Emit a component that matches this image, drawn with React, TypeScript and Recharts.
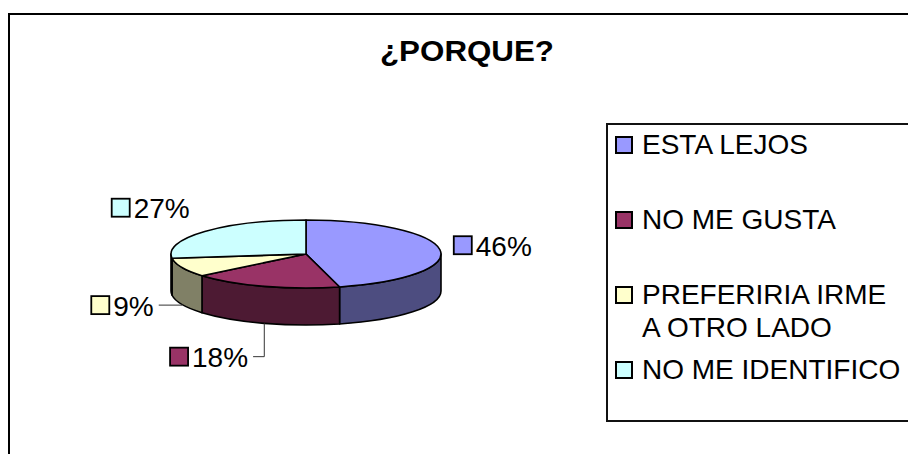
import React from 'react';
import { PieChart, Pie, Legend } from 'recharts';

// slice names and percentages
const categories = ['ESTA LEJOS', 'NO ME GUSTA', 'PREFERIRIA IRME A OTRO LADO', 'NO ME IDENTIFICO'];
const values = [46, 18, 9, 27];
const topColors = ['#9999FF', '#993366', '#FFFFCC', '#CCFFFF'];
const sideColors = ['#4D4D80', '#4D1A33', '#808066', '#668080'];

const data = categories.map((name, i) => ({ name, value: values[i], fill: topColors[i] }));

const RAD = Math.PI / 180;
const TILT = 0.252; // ellipse ry / rx
const DEPTH = 37;
const FONT = '"Liberation Sans", Arial, sans-serif';

const pt = (cx: number, cy: number, rx: number, ry: number, a: number, dy = 0) =>
    `${cx + rx * Math.cos(a * RAD)},${cy - ry * Math.sin(a * RAD) + dy}`;

function Slice3D(props: any) {
    const { cx, cy, outerRadius, startAngle, endAngle, index } = props;
    const rx = outerRadius;
    const ry = outerRadius * TILT;
    const hi = Math.max(startAngle, endAngle);
    const lo = Math.min(startAngle, endAngle);
    const large = hi - lo > 180 ? 1 : 0;
    const top = `M${cx},${cy} L${pt(cx, cy, rx, ry, hi)} A${rx},${ry} 0 ${large} 1 ${pt(cx, cy, rx, ry, lo)} Z`;

    // side wall only where the slice is on the front half of the disc
    const walls: string[] = [];
    for (let k = -1; k <= 1; k++) {
        const a1 = Math.min(hi, -360 * k);
        const a0 = Math.max(lo, -180 - 360 * k);
        if (a1 > a0) {
            walls.push(
                `M${pt(cx, cy, rx, ry, a1)} A${rx},${ry} 0 0 1 ${pt(cx, cy, rx, ry, a0)} ` +
                    `L${pt(cx, cy, rx, ry, a0, DEPTH)} A${rx},${ry} 0 0 0 ${pt(cx, cy, rx, ry, a1, DEPTH)} Z`
            );
        }
    }
    return (
        <g>
            {walls.map((d, i) => (
                <path key={i} d={d} fill={sideColors[index]} stroke="#000" strokeWidth={1.6} strokeLinejoin="round" />
            ))}
            <path d={top} fill={topColors[index]} stroke="#000" strokeWidth={1.6} strokeLinejoin="round" />
        </g>
    );
}

function SliceLabel(props: any) {
    const { cx, cy, midAngle, percent, index, outerRadius } = props;
    const c = Math.cos(midAngle * RAD);
    const s = Math.sin(midAngle * RAD);
    const front = s < 0;
    const fs = 28;
    const txt = `${Math.round(percent * 100)}%`;
    const w = fs * (0.556 * (txt.length - 1) + 0.889);
    const lx = cx + 155 * c - (front ? 10 : 0);
    const ly = cy - 70 * s + (front ? DEPTH * Math.sqrt(-s) : 0);
    const ex = cx + outerRadius * c;
    const ey = cy - outerRadius * TILT * s + DEPTH;
    const right = c >= 0;
    const keyX = right ? lx - 6 : lx - w - 22;
    const textX = right ? lx + 16 : lx;
    return (
        <g>
            {front && (
                <polyline
                    points={`${lx + 5},${ly} ${ex},${ly} ${ex},${ey}`}
                    fill="none"
                    stroke="#333"
                    strokeWidth={1}
                />
            )}
            <rect x={keyX} y={ly - 9} width={18} height={18} fill={topColors[index]} stroke="#000" strokeWidth={1.8} />
            <text
                x={textX}
                y={ly + 1}
                textAnchor={right ? 'start' : 'end'}
                dominantBaseline="central"
                fontSize={fs}
                fontFamily={FONT}
                fill="#000"
            >
                {txt}
            </text>
        </g>
    );
}

function LegendBox({ payload }: any) {
    const items = [...(payload || [])].sort(
        (a: any, b: any) => categories.indexOf(a.value) - categories.indexOf(b.value)
    );
    return (
        <div
            style={{
                boxSizing: 'border-box',
                width: 400,
                height: 299,
                borderTop: '2px solid #111',
                borderLeft: '2px solid #111',
                borderBottom: '2px solid #111',
                background: '#fff',
                paddingTop: 3,
                paddingLeft: 7,
                fontFamily: FONT,
                fontSize: 28,
                lineHeight: '33px',
                color: '#000',
                textAlign: 'left'
            }}
        >
            {items.map((it: any, i: number) => (
                <div key={i} style={{ display: 'flex', alignItems: 'flex-start', height: 75 }}>
                    <div
                        style={{
                            boxSizing: 'border-box',
                            width: 18,
                            height: 18,
                            marginTop: 8,
                            marginRight: 9,
                            background: topColors[categories.indexOf(it.value)],
                            border: '2px solid #000',
                            flexShrink: 0
                        }}
                    />
                    <div style={{ width: 262 }}>{it.value}</div>
                </div>
            ))}
        </div>
    );
}

export default function App() {
    return (
        <div
            style={{
                position: 'fixed',
                left: 8,
                top: 13,
                boxSizing: 'border-box',
                width: 900,
                height: 441,
                borderTop: '2px solid #000',
                borderLeft: '2px solid #000',
                overflow: 'hidden',
                background: '#fff'
            }}
        >
            <div
                style={{
                    position: 'absolute',
                    left: 457,
                    top: 21,
                    transform: 'translateX(-50%) scaleX(1.08)',
                    fontFamily: FONT,
                    fontWeight: 'bold',
                    fontSize: 29,
                    lineHeight: '30px',
                    whiteSpace: 'nowrap',
                    color: '#000',
                    zIndex: 2
                }}
            >
                ¿PORQUE?
            </div>
            <div style={{ position: 'absolute', left: -2, top: -2 }}>
                <PieChart width={900} height={441} margin={{ top: 0, right: 0, bottom: 0, left: 0 }}>
                    <Pie
                        data={data}
                        dataKey="value"
                        nameKey="name"
                        cx={298}
                        cy={241}
                        outerRadius={135}
                        startAngle={90}
                        endAngle={-270}
                        shape={Slice3D}
                        label={SliceLabel}
                        labelLine={false}
                        isAnimationActive={false}
                    />
                    <Legend
                        layout="vertical"
                        align="right"
                        verticalAlign="middle"
                        content={LegendBox}
                        wrapperStyle={{ left: 598, top: 110, right: 'auto', width: 400, height: 299 }}
                    />
                </PieChart>
            </div>
        </div>
    );
}
